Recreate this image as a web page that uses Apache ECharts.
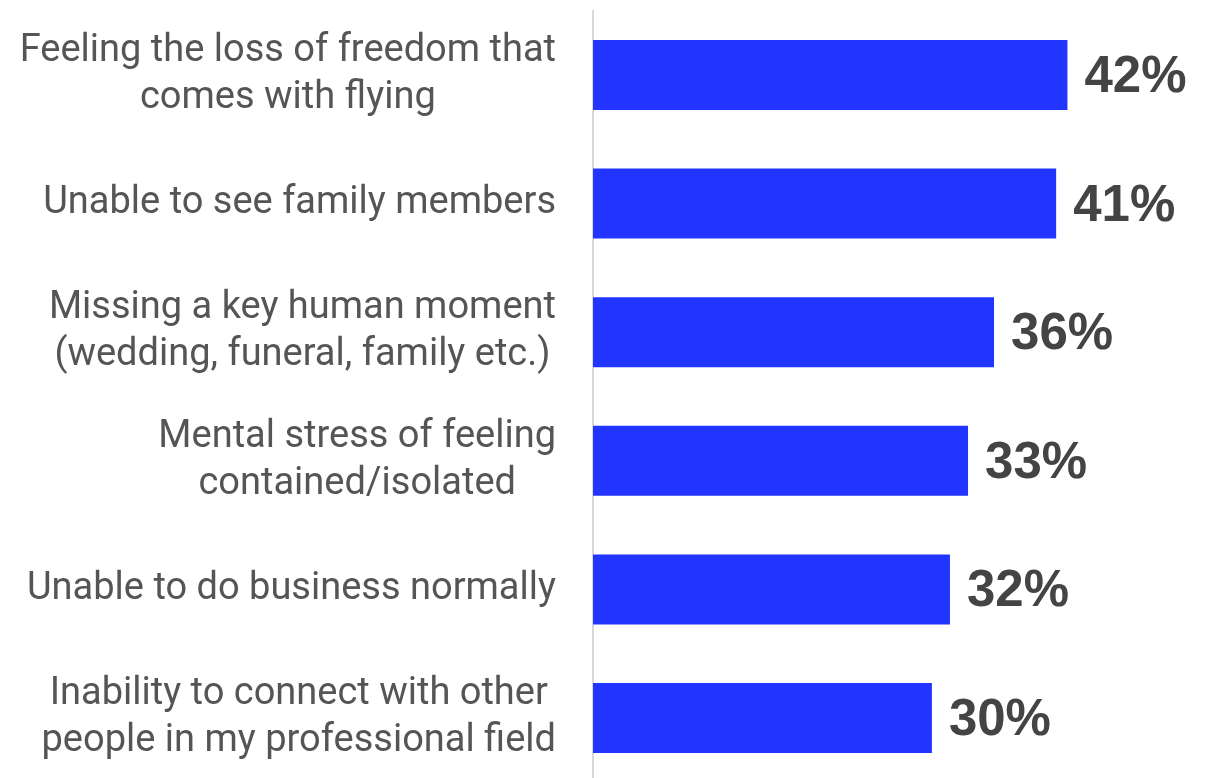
<!DOCTYPE html>
<html>
<head>
<meta charset="utf-8">
<script src="https://cdn.jsdelivr.net/npm/echarts@6/dist/echarts.min.js"></script>
<style>html,body{margin:0;padding:0;background:#fff}#c{width:1214px;height:778px}</style>
</head>
<body>
<div id="c"></div>
<script>
const categories = [
  "Feeling the loss of freedom that\ncomes with flying",
  "Unable to see family members",
  "Missing a key human moment\n(wedding, funeral, family etc.)",
  "Mental stress of feeling\ncontained/isolated",
  "Unable to do business normally",
  "Inability to connect with other\npeople in my professional field"
];
const values = [42, 41, 35.5, 33.2, 31.6, 30];

const chart = echarts.init(document.getElementById('c'));
chart.setOption({
  animation: false,
  grid: { left: 593, top: 10.7, height: 771.6, width: 610, containLabel: false, outerBoundsMode: 'none' },
  xAxis: {
    type: 'value', min: 0, max: 54,
    show: false
  },
  yAxis: {
    type: 'category', data: categories, inverse: true,
    axisLine: { show: true, lineStyle: { color: '#d9d9d9', width: 2 } },
    axisTick: { show: false },
    axisLabel: {
      margin: 37, fontSize: 38, lineHeight: 47, color: '#555555',
      fontFamily: 'Roboto', align: 'right',
      formatter: v => v.split('\n').map(l => '{c|' + l + '}').join('\n'),
      rich: {
        c: { fontSize: 38, lineHeight: 47, color: '#555555', fontFamily: 'Roboto', align: 'center' }
      }
    }
  },
  series: [{
    type: 'bar', data: values, barWidth: 70,
    itemStyle: { color: '#2234FF' },
    label: {
      show: true, position: 'right', distance: 17, offset: [0, 3],
      formatter: p => Math.round(p.value) + '%',
      fontSize: 51, fontWeight: 'bold', color: '#444444',
      fontFamily: 'Liberation Sans'
    }
  }]
});
</script>
</body>
</html>
